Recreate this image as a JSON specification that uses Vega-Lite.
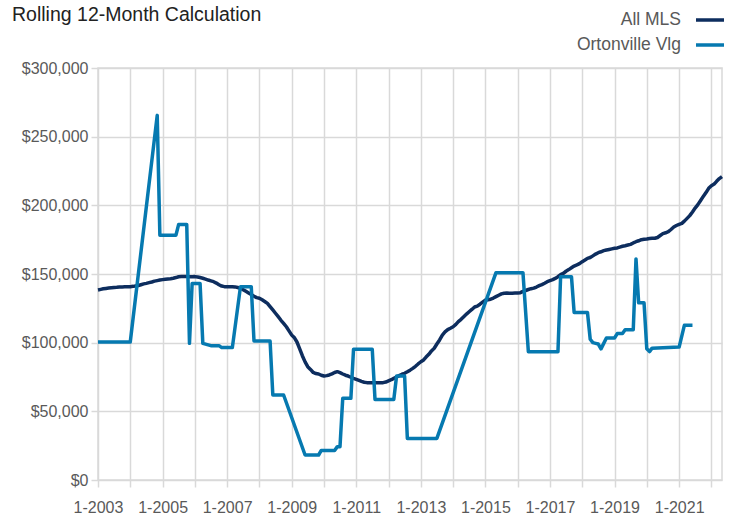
{
  "$schema": "https://vega.github.io/schema/vega-lite/v6.json",
  "width": 624,
  "height": 412,
  "autosize": {"type": "none"},
  "padding": {"left": 98, "top": 68, "right": 10, "bottom": 35},
  "background": "#ffffff",
  "title": {
    "text": "Rolling 12-Month Calculation",
    "anchor": "start",
    "frame": "group",
    "dx": -86,
    "dy": 36,
    "offset": 0,
    "baseline": "alphabetic",
    "fontSize": 19.5,
    "fontWeight": "normal",
    "color": "#222222",
    "font": "Liberation Sans"
  },
  "config": {
    "font": "Liberation Sans",
    "view": {"stroke": "#d9d9d9", "strokeWidth": 1.5},
    "axis": {
      "domain": false,
      "grid": true,
      "gridColor": "#d9d9d9",
      "gridWidth": 1.5,
      "tickColor": "#d9d9d9",
      "tickWidth": 1.5,
      "tickSize": 7,
      "labelColor": "#595959",
      "labelFontSize": 16,
      "labelFont": "Liberation Sans",
      "title": null
    }
  },
  "data": {
    "format": {"parse": {"d": "utc:'%Y-%m'"}},
    "values": [
      {"d":"2003-01","a":138400,"o":100500},{"d":"2003-02","a":138800},{"d":"2003-03","a":139200},{"d":"2003-04","a":139500},{"d":"2003-05","a":139800},{"d":"2003-06","a":140000},{"d":"2003-07","a":140200},{"d":"2003-08","a":140300},{"d":"2003-09","a":140500},{"d":"2003-10","a":140600},{"d":"2003-11","a":140700},{"d":"2003-12","a":140800},
      {"d":"2004-01","a":140800,"o":100500},{"d":"2004-02","a":141000},{"d":"2004-03","a":141300},{"d":"2004-04","a":141600},{"d":"2004-05","a":142200},{"d":"2004-06","a":142800},{"d":"2004-07","a":143200},{"d":"2004-08","a":143700},{"d":"2004-09","a":144200},{"d":"2004-10","a":144800},{"d":"2004-11","a":145200,"o":265500},{"d":"2004-12","a":145600,"o":178300},
      {"d":"2005-01","a":145900},{"d":"2005-02","a":146200},{"d":"2005-03","a":146400},{"d":"2005-04","a":146600},{"d":"2005-05","a":146900},{"d":"2005-06","a":147400,"o":178300},{"d":"2005-07","a":148000,"o":186000},{"d":"2005-08","a":148100},{"d":"2005-09","a":148200},{"d":"2005-10","a":148100,"o":186000},{"d":"2005-11","a":148000,"o":99500},{"d":"2005-12","a":148000,"o":143000},
      {"d":"2006-01","a":148100},{"d":"2006-02","a":147800},{"d":"2006-03","a":147400,"o":143000},{"d":"2006-04","a":146900,"o":99500},{"d":"2006-05","a":146300},{"d":"2006-06","a":145600},{"d":"2006-07","a":145000,"o":97800},{"d":"2006-08","a":144400},{"d":"2006-09","a":143400},{"d":"2006-10","a":142200,"o":97800},{"d":"2006-11","a":141200,"o":96400},{"d":"2006-12","a":140800},
      {"d":"2007-01","a":140800},{"d":"2007-02","a":140800},{"d":"2007-03","a":140800,"o":96400},{"d":"2007-04","a":140600},{"d":"2007-05","a":140200},{"d":"2007-06","a":139600,"o":140800},{"d":"2007-07","a":138600},{"d":"2007-08","a":137400},{"d":"2007-09","a":136200},{"d":"2007-10","a":135000,"o":140800},{"d":"2007-11","a":133800,"o":101200},{"d":"2007-12","a":132800},
      {"d":"2008-01","a":132300},{"d":"2008-02","a":131200},{"d":"2008-03","a":130000},{"d":"2008-04","a":128600},{"d":"2008-05","a":126200,"o":101200},{"d":"2008-06","a":123800,"o":61900},{"d":"2008-07","a":121400},{"d":"2008-08","a":118900},{"d":"2008-09","a":116300},{"d":"2008-10","a":114100,"o":61900},{"d":"2008-11","a":111600},{"d":"2008-12","a":108600},
      {"d":"2009-01","a":105500},{"d":"2009-02","a":103500},{"d":"2009-03","a":100500},{"d":"2009-04","a":95500},{"d":"2009-05","a":90500},{"d":"2009-06","a":86000,"o":18200},{"d":"2009-07","a":82500},{"d":"2009-08","a":80500},{"d":"2009-09","a":78300},{"d":"2009-10","a":77500},{"d":"2009-11","a":77200,"o":18200},{"d":"2009-12","a":76300,"o":21500},
      {"d":"2010-01","a":75700},{"d":"2010-02","a":76000},{"d":"2010-03","a":76500},{"d":"2010-04","a":77300},{"d":"2010-05","a":78300,"o":21500},{"d":"2010-06","a":78900,"o":24300},{"d":"2010-07","a":78200,"o":24300},{"d":"2010-08","a":77200,"o":59500},{"d":"2010-09","a":76300},{"d":"2010-10","a":75700},{"d":"2010-11","a":74800,"o":59500},{"d":"2010-12","a":74000,"o":95200},
      {"d":"2011-01","a":73300},{"d":"2011-02","a":72500},{"d":"2011-03","a":71800},{"d":"2011-04","a":71200},{"d":"2011-05","a":70900},{"d":"2011-06","a":70800},{"d":"2011-07","a":70800,"o":95200},{"d":"2011-08","a":70900,"o":58700},{"d":"2011-09","a":70800},{"d":"2011-10","a":70900},{"d":"2011-11","a":70900},{"d":"2011-12","a":71300},
      {"d":"2012-01","a":72200},{"d":"2012-02","a":73000},{"d":"2012-03","a":74000,"o":58700},{"d":"2012-04","a":75000,"o":75700},{"d":"2012-05","a":76000},{"d":"2012-06","a":77000},{"d":"2012-07","a":77700,"o":75700},{"d":"2012-08","a":78800,"o":30300},{"d":"2012-09","a":80000},{"d":"2012-10","a":81300},{"d":"2012-11","a":82800},{"d":"2012-12","a":84500},
      {"d":"2013-01","a":86100},{"d":"2013-02","a":87400},{"d":"2013-03","a":89500},{"d":"2013-04","a":91500},{"d":"2013-05","a":94000},{"d":"2013-06","a":95900},{"d":"2013-07","a":99000,"o":30300},{"d":"2013-08","a":102000},{"d":"2013-09","a":105500},{"d":"2013-10","a":107800},{"d":"2013-11","a":109500},{"d":"2013-12","a":110500},
      {"d":"2014-01","a":111600},{"d":"2014-02","a":113300},{"d":"2014-03","a":115300},{"d":"2014-04","a":117000},{"d":"2014-05","a":118900},{"d":"2014-06","a":120800},{"d":"2014-07","a":122500},{"d":"2014-08","a":124200},{"d":"2014-09","a":126000},{"d":"2014-10","a":126600},{"d":"2014-11","a":128000},{"d":"2014-12","a":129500},
      {"d":"2015-01","a":131000},{"d":"2015-02","a":131300},{"d":"2015-03","a":131600},{"d":"2015-04","a":132500},{"d":"2015-05","a":133500,"o":151000},{"d":"2015-06","a":134500},{"d":"2015-07","a":135500},{"d":"2015-08","a":136000},{"d":"2015-09","a":136100},{"d":"2015-10","a":136000},{"d":"2015-11","a":136000},{"d":"2015-12","a":136100},
      {"d":"2016-01","a":136200},{"d":"2016-02","a":136400},{"d":"2016-03","a":137300,"o":151000},{"d":"2016-04","a":138000},{"d":"2016-05","a":138700,"o":93400},{"d":"2016-06","a":139300},{"d":"2016-07","a":139700},{"d":"2016-08","a":140500},{"d":"2016-09","a":141500},{"d":"2016-10","a":142300},{"d":"2016-11","a":143300},{"d":"2016-12","a":144400},
      {"d":"2017-01","a":145200},{"d":"2017-02","a":145900},{"d":"2017-03","a":146800},{"d":"2017-04","a":148000,"o":93400},{"d":"2017-05","a":149500,"o":148000},{"d":"2017-06","a":150500},{"d":"2017-07","a":152000},{"d":"2017-08","a":153200},{"d":"2017-09","a":154500,"o":148000},{"d":"2017-10","a":155800,"o":122000},{"d":"2017-11","a":156600},{"d":"2017-12","a":157500},
      {"d":"2018-01","a":159000},{"d":"2018-02","a":160200},{"d":"2018-03","a":161400,"o":122000},{"d":"2018-04","a":162000,"o":102500},{"d":"2018-05","a":163200,"o":100000},{"d":"2018-06","a":164500,"o":99500},{"d":"2018-07","a":165500,"o":99000},{"d":"2018-08","a":166200,"o":95500},{"d":"2018-09","a":167000,"o":99500},{"d":"2018-10","a":167500,"o":103400},{"d":"2018-11","a":167900},{"d":"2018-12","a":168300},
      {"d":"2019-01","a":168700,"o":103400},{"d":"2019-02","a":169000,"o":106600},{"d":"2019-03","a":169600},{"d":"2019-04","a":170200,"o":106600},{"d":"2019-05","a":170600,"o":109400},{"d":"2019-06","a":171100},{"d":"2019-07","a":171600},{"d":"2019-08","a":172600,"o":109400},{"d":"2019-09","a":173500,"o":161000},{"d":"2019-10","a":174200,"o":129000},{"d":"2019-11","a":175000},{"d":"2019-12","a":175300,"o":129000},
      {"d":"2020-01","a":175500,"o":95500},{"d":"2020-02","a":175800,"o":93500},{"d":"2020-03","a":176000,"o":96000},{"d":"2020-04","a":176000},{"d":"2020-05","a":176600},{"d":"2020-06","a":178000},{"d":"2020-07","a":179400},{"d":"2020-08","a":180000},{"d":"2020-09","a":180800},{"d":"2020-10","a":182400},{"d":"2020-11","a":184200},{"d":"2020-12","a":185300},
      {"d":"2021-01","a":186200,"o":96800},{"d":"2021-02","a":186900},{"d":"2021-03","a":188500,"o":112600},{"d":"2021-04","a":190500},{"d":"2021-05","a":192500},{"d":"2021-06","a":195200,"o":112600},{"d":"2021-07","a":198000},{"d":"2021-08","a":200500},{"d":"2021-09","a":203500},{"d":"2021-10","a":206500},{"d":"2021-11","a":209300},{"d":"2021-12","a":212400},
      {"d":"2022-01","a":214300},{"d":"2022-02","a":215500},{"d":"2022-03","a":217500},{"d":"2022-04","a":219500},{"d":"2022-05","a":220900}
    ]
  },
  "transform": [
    {"fold": ["a", "o"], "as": ["s", "v"]},
    {"filter": "isValid(datum.v)"}
  ],
  "mark": {"type": "line", "strokeWidth": 3.5, "strokeJoin": "round"},
  "encoding": {
    "x": {
      "field": "d",
      "type": "temporal",
      "scale": {"type": "utc", "domain": [{"year": 2003, "month": 1, "date": 1, "utc": true}, {"year": 2022, "month": 5, "date": 1, "utc": true}]},
      "axis": {
        "tickCount": {"interval": "year", "step": 1},
        "labelExpr": "utcyear(datum.value) % 2 == 1 ? '1-' + utcyear(datum.value) : ''",
        "labelOverlap": false,
        "labelFlush": false,
        "labelBound": false,
        "labelPadding": 12
      }
    },
    "y": {
      "field": "v",
      "type": "quantitative",
      "scale": {"domain": [0, 300000], "nice": false},
      "axis": {
        "values": [0, 50000, 100000, 150000, 200000, 250000, 300000],
        "format": "$,.0f",
        "labelPadding": 3
      }
    },
    "color": {
      "field": "s",
      "type": "nominal",
      "scale": {"domain": ["a", "o"], "range": ["#0d2d5e", "#0679b0"]},
      "legend": {
        "orient": "none",
        "legendX": 596,
        "legendY": -64,
        "title": null,
        "symbolType": "stroke",
        "symbolSize": 784,
        "symbolStrokeWidth": 3.5,
        "labelAlign": "right",
        "labelOffset": -45,
        "labelFontSize": 17.5,
        "labelColor": "#595959",
        "rowPadding": -1,
        "labelExpr": "datum.label == 'a' ? 'All MLS' : 'Ortonville Vlg'"
      }
    }
  }
}
